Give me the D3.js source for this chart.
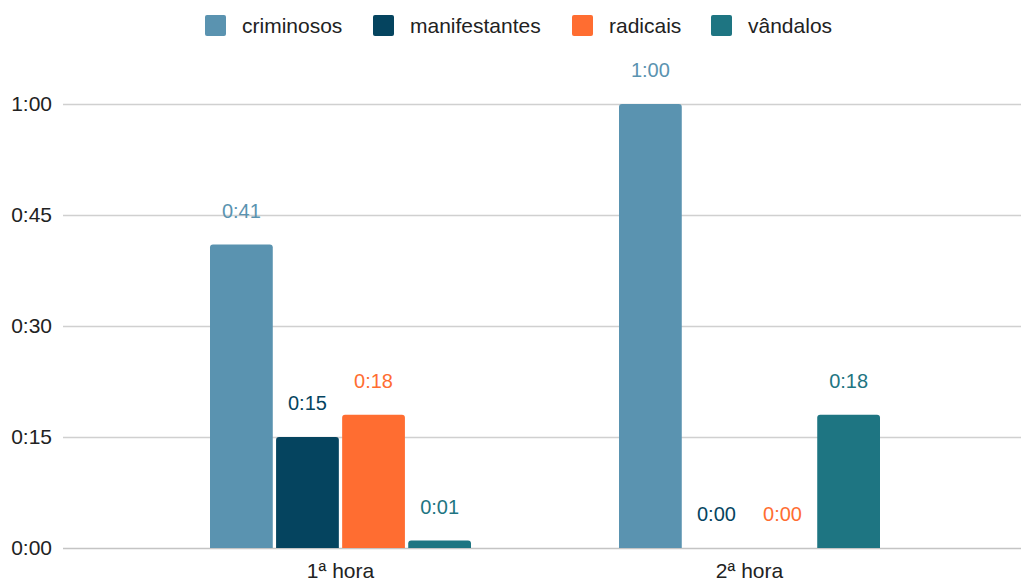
<!DOCTYPE html>
<html>
<head>
<meta charset="utf-8">
<script src="https://cdn.jsdelivr.net/npm/d3@7"></script>
<style>
  html, body { margin: 0; padding: 0; background: #fff; }
  svg { display: block; font-family: "Liberation Sans", Arial, sans-serif; }
</style>
</head>
<body>
<svg id="chart" width="1021" height="582"></svg>
<script>
// Categories and series (values in minutes)
const categories = ["1ª hora", "2ª hora"];
const seriesNames = ["criminosos", "manifestantes", "radicais", "vândalos"];
const criminosos = [41, 60];
const manifestantes = [15, 0];
const radicais = [18, 0];
const vandalos = [1, 18];
const seriesValues = [criminosos, manifestantes, radicais, vandalos];
const colors = ["#5A93B0", "#05445F", "#FF6D31", "#1E7582"];
const yTicks = [0, 15, 30, 45, 60];

const FONT = "'Liberation Sans', Arial, sans-serif";
const fmt = v => `${Math.floor(v / 60)}:${String(v % 60).padStart(2, "0")}`;

const svg = d3.select("#chart");
const plot = { left: 63, right: 1021, top: 104, bottom: 548 };

const y = d3.scaleLinear().domain([0, 60]).range([plot.bottom, plot.top]);
const x0 = d3.scaleBand().domain(categories).range([136, 954]).paddingInner(0).paddingOuter(0);
const x1 = d3.scaleBand().domain(seriesNames).range([0, 261]).paddingInner(0.05).paddingOuter(0);

// Gridlines
svg.append("g")
  .selectAll("line")
  .data(yTicks)
  .join("line")
  .attr("x1", plot.left).attr("x2", plot.right)
  .attr("y1", d => Math.round(y(d)) + 0.5).attr("y2", d => Math.round(y(d)) + 0.5)
  .attr("stroke", d => d === 0 ? "#c4c4c4" : "#d0d0d0")
  .attr("stroke-width", 1.5);

// Y axis labels
const yAxis = d3.axisLeft(y).tickValues(yTicks).tickFormat(fmt).tickSize(0).tickPadding(0);
svg.append("g")
  .attr("transform", "translate(52,0)")
  .call(yAxis)
  .call(g => g.select(".domain").remove())
  .selectAll("text")
  .attr("font-size", 21)
  .attr("fill", "#222")
  .attr("font-family", FONT);

// X axis labels
const xAxis = d3.axisBottom(x0).tickSize(0).tickPadding(0);
svg.append("g")
  .attr("transform", "translate(0,563)")
  .call(xAxis)
  .call(g => g.select(".domain").remove())
  .selectAll("text")
  .attr("font-size", 21)
  .attr("fill", "#222")
  .attr("font-family", FONT);

// Bars: rounded top corners
const r = 3;
function barPath(x, yTop, w, h) {
  if (h <= 0) return "";
  const rr = Math.min(r, h, w / 2);
  return `M${x},${yTop + h}V${yTop + rr}Q${x},${yTop} ${x + rr},${yTop}H${x + w - rr}Q${x + w},${yTop} ${x + w},${yTop + rr}V${yTop + h}Z`;
}

const rows = [];
categories.forEach((c, ci) => {
  seriesNames.forEach((s, si) => {
    rows.push({ cat: c, series: s, value: seriesValues[si][ci], color: colors[si] });
  });
});

const barX = d => x0(d.cat) + (x0.bandwidth() - 261) / 2 + x1(d.series);

svg.append("g")
  .selectAll("path")
  .data(rows)
  .join("path")
  .attr("d", d => barPath(barX(d), y(d.value), x1.bandwidth(), y(0) - y(d.value)))
  .attr("fill", d => d.color);

// Value labels
svg.append("g")
  .selectAll("text")
  .data(rows)
  .join("text")
  .attr("x", d => barX(d) + x1.bandwidth() / 2)
  .attr("y", d => y(d.value) - 27)
  .attr("text-anchor", "middle")
  .attr("font-size", 20)
  .attr("font-family", FONT)
  .attr("fill", d => d.color)
  .text(d => fmt(d.value));

// Legend
const legendX = [205, 373, 572, 711];
const legend = svg.append("g");
seriesNames.forEach((s, i) => {
  const g = legend.append("g").attr("transform", `translate(${legendX[i]},15)`);
  g.append("rect").attr("width", 21).attr("height", 21).attr("rx", 2).attr("fill", colors[i]);
  g.append("text").attr("x", 37).attr("y", 18).attr("font-size", 21).attr("font-family", FONT)
    .attr("fill", "#222").text(s);
});
</script>
</body>
</html>
